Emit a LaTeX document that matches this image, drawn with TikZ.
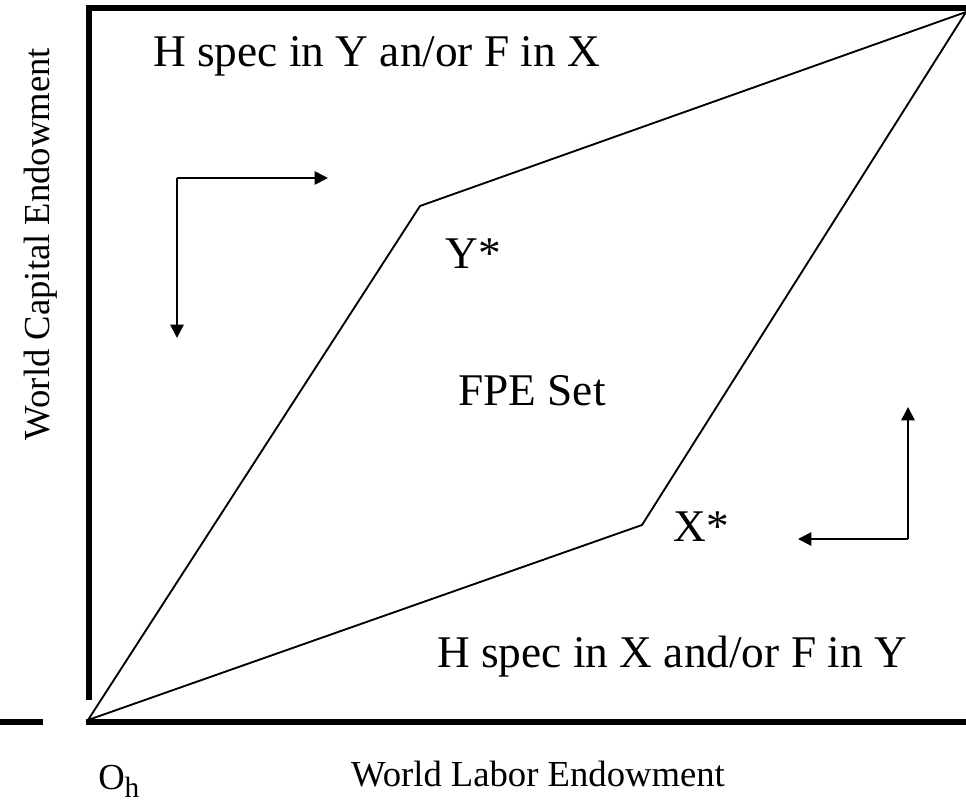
\documentclass[tikz,border=0pt]{standalone}
\usepackage{fontspec}
\setmainfont{Liberation Serif}
\usetikzlibrary{arrows.meta}
\tikzset{
  frameline/.style={line width=4.5pt},
  setline/.style={line width=1.4pt, line join=miter},
  dirarrow/.style={line width=1.3pt, -{Triangle[length=10pt,width=10pt]}},
  biglabel/.style={inner sep=0pt, font=\fontsize{34}{40}\selectfont, anchor=base west},
  axislabel/.style={inner sep=0pt, font=\fontsize{27.5}{32}\selectfont},
}
\begin{document}
\begin{tikzpicture}[x=0.75pt, y=-0.75pt]
\useasboundingbox (0,0) rectangle (966,803);
% frame
\draw[frameline] (89,5) -- (89,700);
\draw[frameline] (86,8) -- (966,8);
\draw[frameline] (86,722) -- (966,722);
\draw[frameline] (0,722) -- (43,722);
% FPE set
\coordinate (O) at (88,720);
\coordinate (Yk) at (420,206);
\coordinate (TR) at (966,12);
\coordinate (Xk) at (642,525);
\draw[setline] (O) -- (Yk) -- (TR) -- (Xk) -- cycle;
% arrows
\coordinate (c1) at (177,178);
\coordinate (c1r) at (328,178);
\coordinate (c1d) at (177,338);
\draw[dirarrow] (c1) -- (c1r);
\draw[dirarrow] (c1) -- (c1d);
\coordinate (c2) at (908,539);
\coordinate (c2l) at (798,539);
\coordinate (c2u) at (908,407);
\draw[dirarrow] (c2) -- (c2l);
\draw[dirarrow] (c2) -- (c2u);
% labels
\node[biglabel] (top) at (153,66) {H spec in Y an/or F in X};
\node[biglabel] (ys) at (445,268) {Y*};
\node[biglabel] (fpe) at (458,405) {FPE Set};
\node[biglabel] (xs) at (673,541) {X*};
\node[biglabel] (bot) at (437,667) {H spec in X and/or F in Y};
\node[axislabel, anchor=base west] (oh) at (98,789) {O\textsubscript{\fontsize{22}{24}\selectfont h}};
\node[axislabel, anchor=base] (xlab) at (538,786) {World Labor Endowment};
\node[axislabel, rotate=90] (ylab) at (41,244) {World Capital Endowment};
\end{tikzpicture}
\end{document}
